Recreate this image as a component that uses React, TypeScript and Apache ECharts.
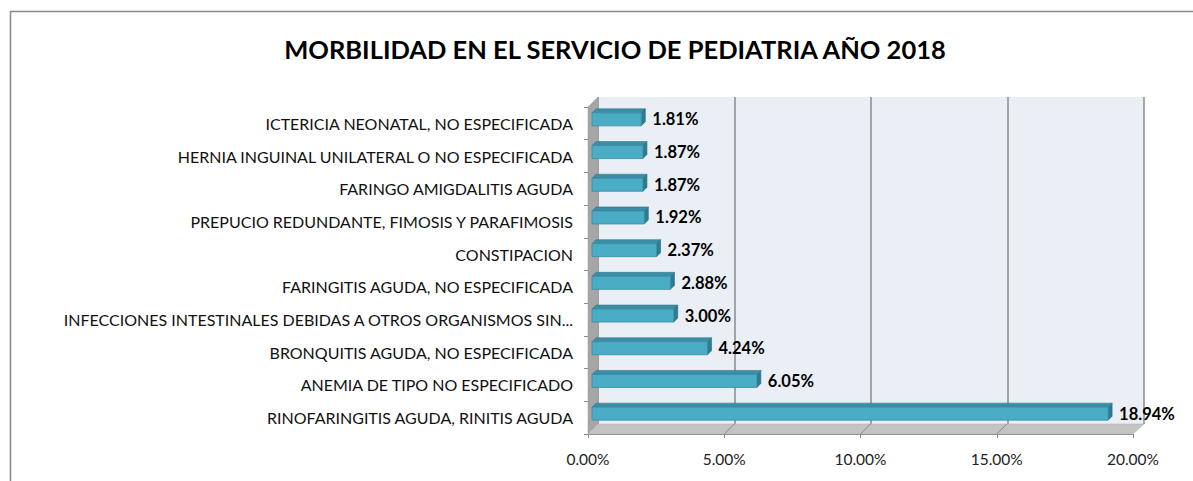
import React, { useEffect, useRef } from "react";
import * as echarts from "echarts";

const title = "MORBILIDAD EN EL SERVICIO DE PEDIATRIA AÑO 2018";
const categories = [
  "ICTERICIA NEONATAL, NO ESPECIFICADA",
  "HERNIA INGUINAL UNILATERAL O NO ESPECIFICADA",
  "FARINGO AMIGDALITIS AGUDA",
  "PREPUCIO REDUNDANTE, FIMOSIS Y PARAFIMOSIS",
  "CONSTIPACION",
  "FARINGITIS AGUDA, NO ESPECIFICADA",
  "INFECCIONES INTESTINALES DEBIDAS A OTROS ORGANISMOS SIN...",
  "BRONQUITIS AGUDA, NO ESPECIFICADA",
  "ANEMIA DE TIPO NO ESPECIFICADO",
  "RINOFARINGITIS AGUDA, RINITIS AGUDA",
];
const values = [1.81, 1.87, 1.87, 1.92, 2.37, 2.88, 3.0, 4.24, 6.05, 18.94];
const xTicks = [0, 5, 10, 15, 20];

const FONT = "Lato, 'Open Sans', sans-serif";
const GL = 588;
const GT = 107;
const GW = 545;
const GH = 327;
const DX = 10;
const DY = -10;

export default function App() {
  const ref = useRef<HTMLDivElement>(null);
  useEffect(() => {
    if (!ref.current) return;
    const chart = echarts.init(ref.current, undefined, { renderer: "svg" });
    const GB = GT + GH;
    const GR = GL + GW;
    const floorLines = xTicks.slice(1, -1).map((t) => {
      const x = GL + (t / 20) * GW;
      return {
        type: "line",
        z: 1,
        shape: { x1: x, y1: GB, x2: x + DX, y2: GB + DY },
        style: { stroke: "#8a8a8a", lineWidth: 1 },
      };
    });
    chart.setOption({
      animation: false,
      backgroundColor: "#ffffff",
      title: {
        text: title,
        left: 610,
        textAlign: "center",
        top: 31,
        textStyle: { fontFamily: FONT, fontWeight: "bold", fontSize: 25.5, color: "#000" },
      },
      grid: [
        { left: GL, top: GT, width: GW, height: GH, containLabel: false },
        {
          left: GL + DX,
          top: GT + DY,
          width: GW + 1,
          height: GH,
          show: true,
          backgroundColor: "#e9eff5",
          borderWidth: 0,
          z: 0,
        },
      ],
      xAxis: [
        {
          type: "value",
          gridIndex: 0,
          min: 0,
          max: 20,
          interval: 5,
          axisLine: { show: true, lineStyle: { color: "#8a8a8a", width: 1 } },
          axisTick: { show: true, length: 4, lineStyle: { color: "#8a8a8a" } },
          splitLine: { show: false },
          axisLabel: {
            margin: 17,
            fontFamily: FONT,
            fontSize: 15.5,
            color: "#222",
            formatter: (v: number) => v.toFixed(2) + "%",
          },
        },
        {
          type: "value",
          gridIndex: 1,
          min: 0,
          max: 20,
          interval: 5,
          axisLine: { show: false },
          axisTick: { show: false },
          axisLabel: { show: false },
          splitLine: { show: true, lineStyle: { color: "#8a8a8a", width: 1.5 } },
        },
      ],
      yAxis: [
        {
          type: "category",
          gridIndex: 0,
          inverse: true,
          data: categories,
          axisLine: { show: true, lineStyle: { color: "#8a8a8a" } },
          axisTick: { show: true, length: 4, lineStyle: { color: "#8a8a8a" } },
          axisLabel: { margin: 15, fontFamily: FONT, fontSize: 16, color: "#111" },
        },
        {
          type: "value",
          gridIndex: 1,
          show: false,
        },
      ],
      graphic: [
        {
          type: "rect",
          z: 0,
          shape: { x: 10.5, y: 11.5, width: 1400, height: 700 },
          style: { fill: "none", stroke: "#878787", lineWidth: 1.5 },
        },
        {
          type: "polygon",
          z: 1,
          shape: {
            points: [
              [GL, GT],
              [GL + DX, GT + DY],
              [GL + DX, GB + DY],
              [GL, GB],
            ],
          },
          style: { fill: "#a6a6a6", stroke: "#9a9a9a", lineWidth: 0.5 },
        },
        {
          type: "polygon",
          z: 1,
          shape: {
            points: [
              [GL, GB],
              [GL + DX, GB + DY],
              [GR + DX + 1, GB + DY],
              [GR, GB],
            ],
          },
          style: { fill: "#c3c3c3", stroke: "#b0b0b0", lineWidth: 0.5 },
        },
        ...floorLines,
      ],
      series: [
        {
          type: "custom",
          xAxisIndex: 0,
          yAxisIndex: 0,
          z: 5,
          data: values.map((v, i) => [v, i]),
          encode: { x: 0, y: 1 },
          renderItem: (params: any, api: any) => {
            const v = api.value(0);
            const idx = api.value(1);
            const s = api.coord([0, idx]);
            const e = api.coord([v, idx]);
            const h = 13;
            const d = 4;
            const ox = 4;
            const oy = -4;
            const x0 = s[0] + ox;
            const x1 = e[0] + ox;
            const yc = s[1] + oy;
            const y0 = yc - h / 2;
            const y1 = yc + h / 2;
            return {
              type: "group",
              children: [
                {
                  type: "polygon",
                  shape: { points: [[x0, y0], [x0 + d, y0 - d], [x1 + d, y0 - d], [x1, y0]] },
                  style: { fill: "#3b8ea6", stroke: "#2f7b90", lineWidth: 0.6 },
                },
                {
                  type: "polygon",
                  shape: { points: [[x1, y0], [x1 + d, y0 - d], [x1 + d, y1 - d], [x1, y1]] },
                  style: { fill: "#2f7b90", stroke: "#2a6f83", lineWidth: 0.6 },
                },
                {
                  type: "rect",
                  shape: { x: x0, y: y0, width: x1 - x0, height: h },
                  style: { fill: "#4bacc6", stroke: "#3a8ca3", lineWidth: 0.8 },
                },
                {
                  type: "text",
                  style: {
                    x: x1 + d + 7,
                    y: yc,
                    text: v.toFixed(2) + "%",
                    textAlign: "left",
                    textVerticalAlign: "middle",
                    fontFamily: FONT,
                    fontWeight: "bold",
                    fontSize: 16.5,
                    fill: "#000",
                  },
                },
              ],
            };
          },
        },
      ],
    });
    return () => chart.dispose();
  }, []);
  return (
    <div
      ref={ref}
      style={{ position: "fixed", left: 0, top: 0, width: 1193, height: 481, background: "#fff" }}
    />
  );
}
